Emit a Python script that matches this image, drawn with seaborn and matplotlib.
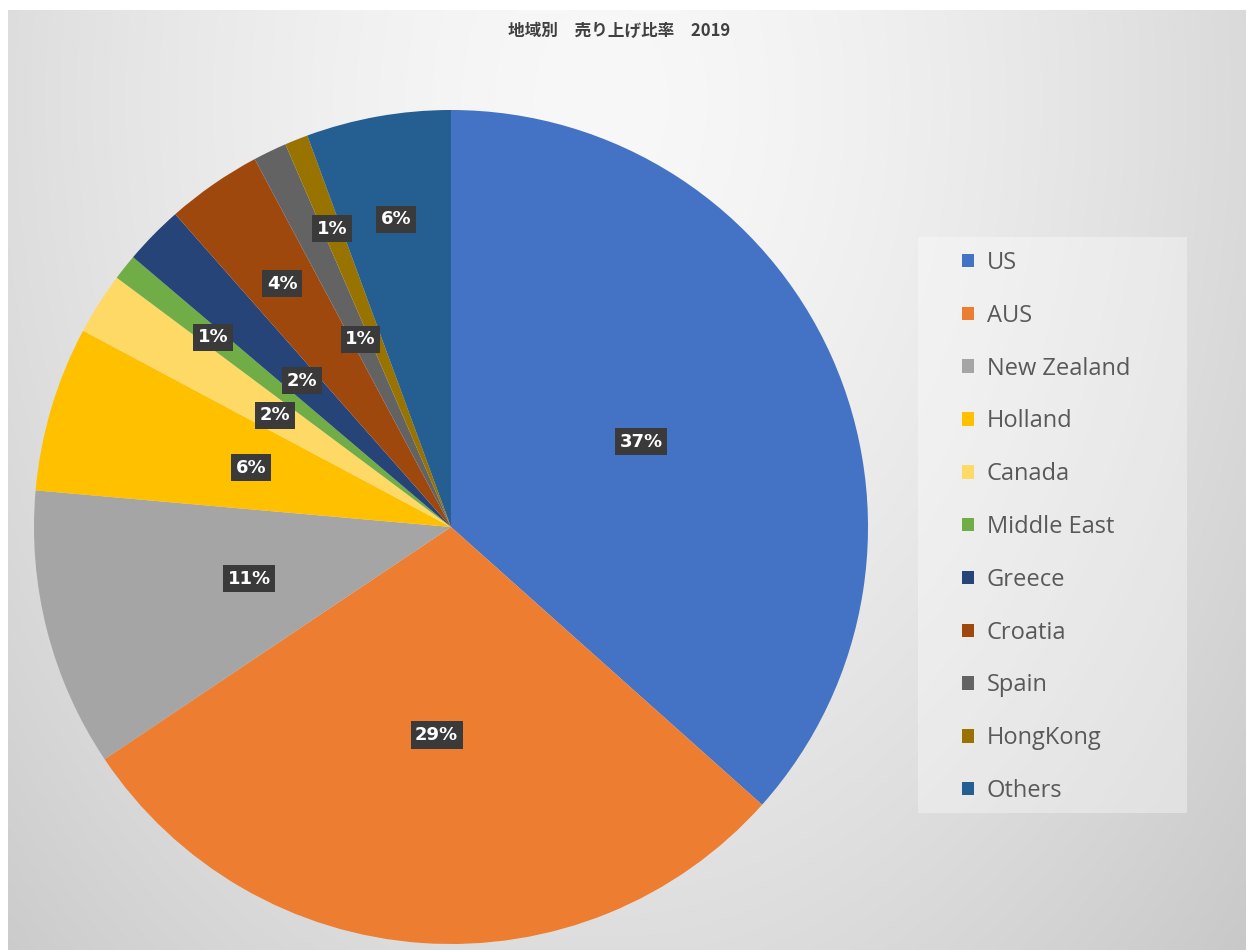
import numpy as np
import matplotlib
matplotlib.use("Agg")
import matplotlib.pyplot as plt
from matplotlib.patches import Rectangle
import seaborn as sns

# ---- data ----
regions = ["US", "AUS", "New Zealand", "Holland", "Canada", "Middle East",
           "Greece", "Croatia", "Spain", "HongKong", "Others"]
shares = [36.6, 29.0, 10.8, 6.4, 2.4, 1.0, 2.3, 3.7, 1.3, 0.9, 5.6]
title_text = "地域別　売り上げ比率　2019"

# ---- styles ----
slice_colors = ["#4472C4", "#ED7D31", "#A5A5A5", "#FFC000", "#FFD966", "#70AD47",
                "#264478", "#9E480E", "#636363", "#997300", "#255E91"]
label_radius = [0.5, 0.5, 0.5, 0.5, 0.5, 0.73, 0.5, 0.71, 0.5, 0.77, 0.75]

sns.set_theme(style="white")
plt.rcParams['font.family'] = ['Noto Sans CJK JP', 'DejaVu Sans']

W, H = 1246, 950
fig = plt.figure(figsize=(W / 100, H / 100), dpi=100)
fig.patch.set_facecolor("white")

# background gradient (chart area)
bg_ax = fig.add_axes([8 / W, 0, 1 - 8 / W, 1 - 10 / H])
bg_ax.set_axis_off()
yy, xx = np.mgrid[10:950:2, 8:1246:2]
d = np.sqrt(((xx - 600) / 700.0) ** 2 + ((yy - 100) / 1000.0) ** 2)
v = np.clip(248 - 34 * d ** 1.5, 198, 250) / 255.0
rgb = np.dstack([v, v, v])
bg_ax.imshow(rgb, aspect="auto", extent=[0, 1, 0, 1], interpolation="bilinear")
bg_ax.set_xlim(0, 1)
bg_ax.set_ylim(0, 1)

# pie axes
cx, cy, r = 451, 527, 417
ax = fig.add_axes([(cx - r) / W, (H - cy - r) / H, 2 * r / W, 2 * r / H])
ax.set_axis_off()
palette = sns.color_palette(slice_colors)
wedges, _ = ax.pie(shares, colors=palette, startangle=90, counterclock=False,
                   radius=1.0, wedgeprops=dict(linewidth=0))
ax.set_xlim(-1, 1)
ax.set_ylim(-1, 1)

for w, val, lr in zip(wedges, shares, label_radius):
    ang = np.deg2rad((w.theta1 + w.theta2) / 2)
    x, y = lr * np.cos(ang), lr * np.sin(ang)
    ax.text(x, y, f"{val:.0f}%", ha="center", va="center", color="white",
            fontsize=13, fontweight="bold", family=["DejaVu Sans"],
            bbox=dict(boxstyle="square,pad=0.25", facecolor="#3a3a3a",
                      edgecolor="none"))

# legend box
fig.patches.append(Rectangle((918 / W, (H - 813) / H), 269 / W, 576 / H,
                             transform=fig.transFigure, facecolor="white",
                             alpha=0.35, edgecolor="none", zorder=1))

leg = fig.legend(wedges, regions, loc="upper left",
                 bbox_to_anchor=(962 / W, 1 - 251 / H),
                 frameon=False, fontsize=17,
                 handlelength=0.5, handleheight=0.5, handletextpad=0.55,
                 labelspacing=1.22, borderpad=0, borderaxespad=0)
for t in leg.get_texts():
    t.set_color("#595959")
    t.set_family(["Open Sans", "DejaVu Sans"])

fig.text(619 / W, 1 - 31 / H, title_text, ha="center", va="center",
         fontsize=12, fontweight="bold", color="#404040")

fig.savefig("out.png", dpi=100)
